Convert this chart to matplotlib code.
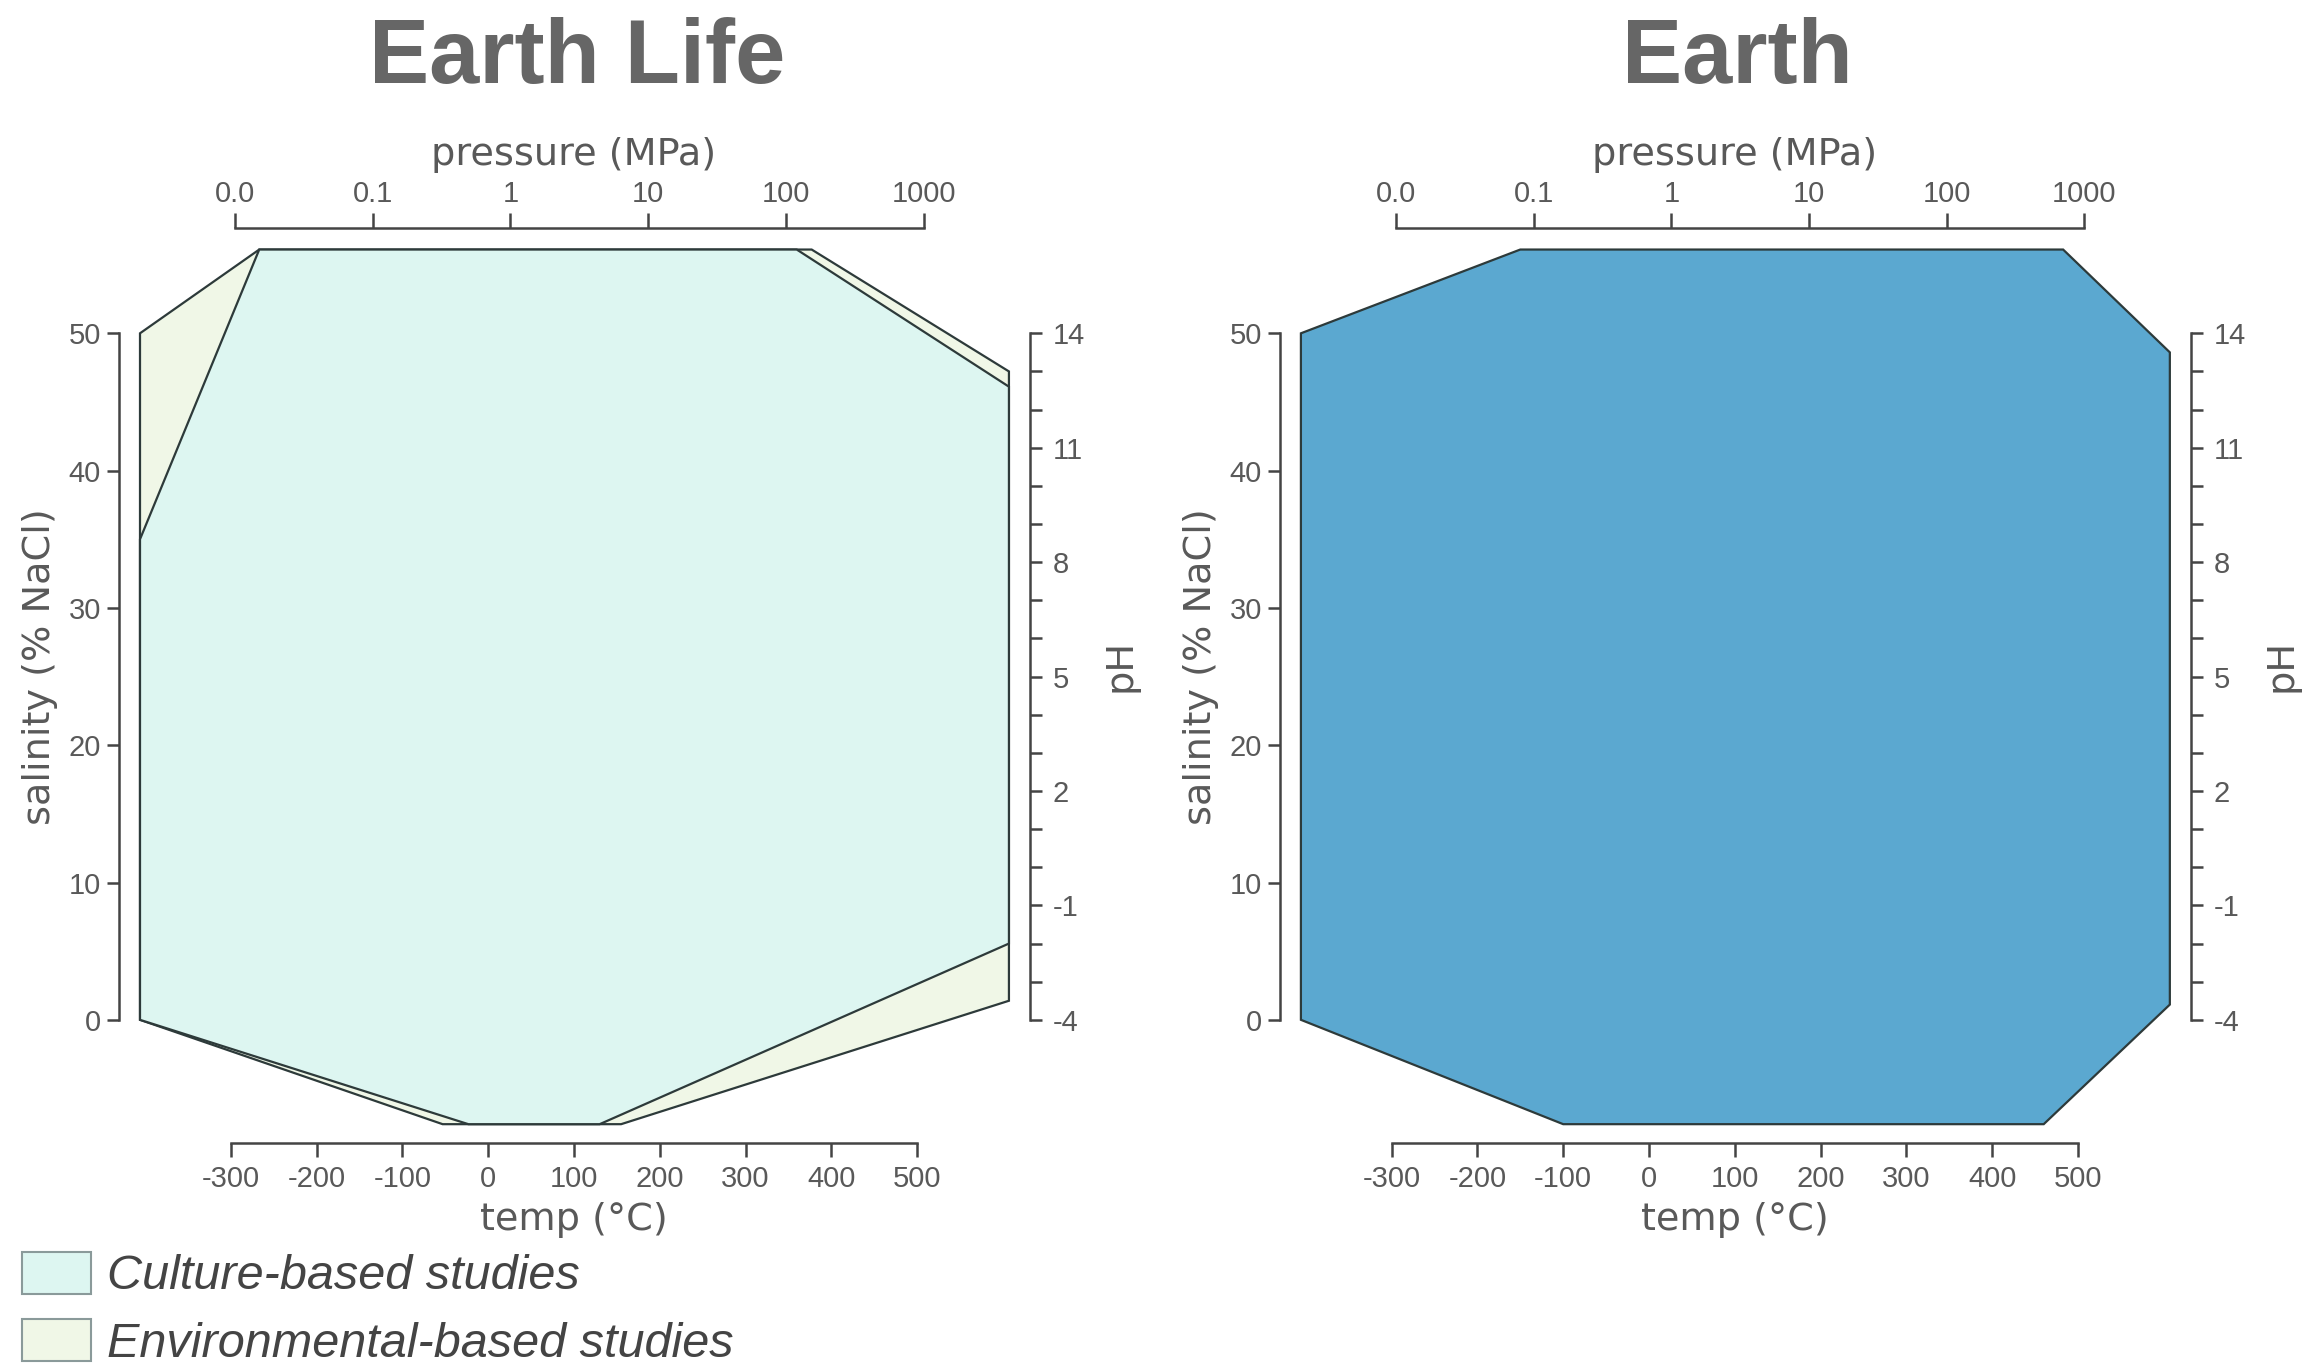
import matplotlib
matplotlib.use('Agg')
import matplotlib.pyplot as plt
from matplotlib.patches import Polygon, Patch

plt.rcParams['font.family'] = ['Liberation Sans', 'DejaVu Sans']
plt.rcParams['axes.unicode_minus'] = False

# ranges: [min, max]
culture_temp = [-23, 130]          # degC
culture_pressure = [0.015, 120]    # MPa
culture_salinity = [0, 35]         # % NaCl
culture_ph = [-2.0, 12.6]

env_temp = [-53, 155]
env_pressure = [0.015, 154]
env_salinity = [0, 50]
env_ph = [-3.5, 13.0]

earth_temp = [-100, 460]
earth_pressure = [0.08, 700]
earth_salinity = [0, 50]
earth_ph = [-3.6, 13.5]

temp_ticks = [-300, -200, -100, 0, 100, 200, 300, 400, 500]
pressure_ticks = [0.01, 0.1, 1, 10, 100, 1000]
pressure_labels = ['0.0', '0.1', '1', '10', '100', '1000']
salinity_ticks = [0, 10, 20, 30, 40, 50]
ph_major = [-4, -1, 2, 5, 8, 11, 14]
ph_minor = [v for v in range(-4, 15) if v not in ph_major]

CULT = '#ddf6f1'
ENV = '#f0f7e7'
EARTH = '#5ba8d0'
EDGE = '#2d3a3a'
AXC = '#444444'
TXT = '#595959'

# axes geometry (main data coords: x = temp, y = salinity)
XLIM = (-460, 660)
YLIM = (-12, 60)
X_LEFT, X_RIGHT = -405.7, 607.0     # left / right edges of the polygons
Y_BOT, Y_TOP = -7.6, 56.1           # bottom / top edges of the polygons
P_X0, P_DEC = -295.0, 160.5         # x of 0.01 MPa and width of a decade
PH_LIM = (YLIM[0] * 18 / 50 - 4, YLIM[1] * 18 / 50 - 4)


def draw_panel(left, title, shapes):
    ax = fig.add_axes([left, 0.13280, 0.41656, 0.72372])
    ax.set_xlim(*XLIM)
    ax.set_ylim(*YLIM)
    ax.patch.set_alpha(0)

    ax_top = ax.twiny()
    ax_top.set_xscale('log')
    ax_top.set_xlim(10 ** ((XLIM[0] - P_X0) / P_DEC - 2),
                    10 ** ((XLIM[1] - P_X0) / P_DEC - 2))
    ax_right = ax.twinx()
    ax_right.set_ylim(*PH_LIM)

    def p_to_x(p):
        disp = ax_top.transData.transform((p, 0))
        return ax.transData.inverted().transform(disp)[0]

    def ph_to_y(v):
        disp = ax_right.transData.transform((0, v))
        return ax.transData.inverted().transform(disp)[1]

    for temp, pres, sal, ph, fc in shapes:
        verts = [(temp[0], Y_BOT), (temp[1], Y_BOT),
                 (X_RIGHT, ph_to_y(ph[0])), (X_RIGHT, ph_to_y(ph[1])),
                 (p_to_x(pres[1]), Y_TOP), (p_to_x(pres[0]), Y_TOP),
                 (X_LEFT, sal[1]), (X_LEFT, sal[0])]
        ax.add_patch(Polygon(verts, closed=True, facecolor=fc,
                             edgecolor=EDGE, linewidth=1.6, zorder=2))

    # bottom: temperature, left: salinity
    for s in ['top', 'right']:
        ax.spines[s].set_visible(False)
    ax.spines['bottom'].set_position(('data', -9.0))
    ax.spines['bottom'].set_bounds(temp_ticks[0], temp_ticks[-1])
    ax.spines['left'].set_position(('data', -430))
    ax.spines['left'].set_bounds(salinity_ticks[0], salinity_ticks[-1])
    for s in ['bottom', 'left']:
        ax.spines[s].set_color(AXC)
        ax.spines[s].set_linewidth(1.8)
    ax.set_xticks(temp_ticks)
    ax.set_yticks(salinity_ticks)
    ax.tick_params(axis='x', direction='out', length=10, width=1.8, pad=5.5,
                   labelsize=21, color=AXC, labelcolor=TXT)
    ax.tick_params(axis='y', direction='out', length=8.5, width=1.8, pad=4.5,
                   labelsize=21, color=AXC, labelcolor=TXT)
    ax.set_xlabel('temp (°C)', fontsize=27.5, family='DejaVu Sans', color=TXT, va='center')
    ax.xaxis.set_label_coords(0.5, -0.036)
    ax.set_ylabel('salinity (% NaCl)', fontsize=27.5, family='DejaVu Sans', color=TXT,
                  va='center')
    ax.yaxis.set_label_coords(-0.0556, 0.524)

    # top: pressure
    for s in ['bottom', 'left', 'right']:
        ax_top.spines[s].set_visible(False)
    ax_top.spines['top'].set_position(('data', 57.66))
    ax_top.spines['top'].set_bounds(pressure_ticks[0], pressure_ticks[-1])
    ax_top.spines['top'].set_color(AXC)
    ax_top.spines['top'].set_linewidth(1.8)
    ax_top.set_xticks(pressure_ticks)
    ax_top.set_xticklabels(pressure_labels)
    ax_top.xaxis.set_minor_locator(matplotlib.ticker.NullLocator())
    ax_top.tick_params(axis='x', direction='out', length=10.5, width=1.8, pad=4.3,
                       labelsize=21, color=AXC, labelcolor=TXT)
    ax_top.set_xlabel('pressure (MPa)', fontsize=27.5, family='DejaVu Sans', color=TXT,
                      va='center')
    ax_top.xaxis.set_label_coords(0.5, 1.041)

    # right: pH
    for s in ['bottom', 'left', 'top']:
        ax_right.spines[s].set_visible(False)
    ax_right.spines['right'].set_position(('data', 631.5))
    ax_right.spines['right'].set_bounds(ph_major[0], ph_major[-1])
    ax_right.spines['right'].set_color(AXC)
    ax_right.spines['right'].set_linewidth(1.8)
    ax_right.set_yticks(ph_major)
    ax_right.set_yticks(ph_minor, minor=True)
    ax_right.tick_params(axis='y', which='both', direction='out', length=8.5, width=1.8,
                         pad=8, labelsize=21, color=AXC, labelcolor=TXT)
    ax_right.set_ylabel('pH', fontsize=27.5, family='DejaVu Sans', color=TXT, va='center')
    ax_right.yaxis.set_label_coords(1.069, 0.525)

    fig.text(left + 0.2096, 0.9392, title, ha='center', va='baseline',
             fontsize=65, fontweight='bold', color='#666666')


fig = plt.figure(figsize=(23.07, 13.66), dpi=100)

draw_panel(0.04049, 'Earth Life',
           [(env_temp, env_pressure, env_salinity, env_ph, ENV),
            (culture_temp, culture_pressure, culture_salinity, culture_ph, CULT)])
draw_panel(0.54370, 'Earth',
           [(earth_temp, earth_pressure, earth_salinity, earth_ph, EARTH)])

handles = [Patch(facecolor=CULT, edgecolor='#8a9a9a', linewidth=1.5,
                 label='Culture-based studies'),
           Patch(facecolor=ENV, edgecolor='#8a9a9a', linewidth=1.5,
                 label='Environmental-based studies')]
fig.legend(handles=handles, loc='upper left', bbox_to_anchor=(0.0095, 0.0838),
           frameon=False, borderpad=0, borderaxespad=0,
           prop={'family': 'Liberation Sans', 'style': 'italic', 'size': 35},
           labelcolor='#444444', handlelength=1.42, handleheight=0.97,
           handletextpad=0.33, labelspacing=0.40)

fig.savefig('out.png', dpi=100)
